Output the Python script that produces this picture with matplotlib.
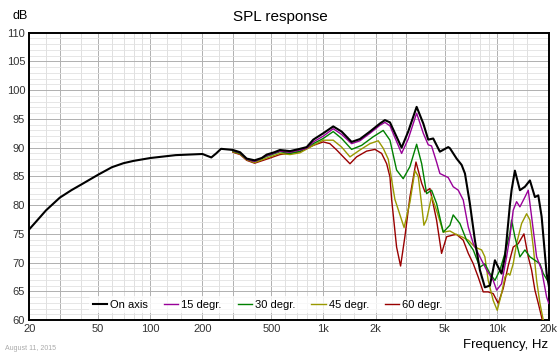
import numpy as np
import matplotlib
matplotlib.use("Agg")
import matplotlib.pyplot as plt

plt.rcParams['font.family'] = ['Liberation Sans', 'DejaVu Sans']

# Datos (frecuencia en Hz, nivel en dB)
f_on = [20, 22, 25, 30, 35, 40, 45, 50, 60, 70, 80, 100, 140, 200, 212, 225, 240, 256, 300, 330,
        360, 400, 440, 470, 520, 560, 640, 731, 800, 873, 996, 1138, 1273, 1453, 1623, 1854,
        2118, 2263, 2420, 2825, 3084, 3450, 3770, 4025, 4300, 4700, 5250, 5370, 5870, 6275,
        6560, 7000, 7485, 8000, 8550, 9140, 9770, 10210, 10670, 11160, 11410, 11920, 12190,
        12740, 13620, 14560, 15560, 16630, 17390, 18180, 19430, 20000]
db_on = [75.8, 77.2, 79.1, 81.3, 82.6, 83.6, 84.5, 85.3, 86.6, 87.3, 87.7, 88.2, 88.7, 88.9, 88.6,
         88.3, 89.0, 89.8, 89.6, 89.2, 88.1, 87.8, 88.2, 88.8, 89.2, 89.6, 89.4, 89.8, 90.1, 91.4,
         92.5, 93.7, 92.8, 91.0, 91.5, 92.8, 94.2, 94.8, 94.4, 90.0, 92.8, 97.1, 94.2, 91.4, 91.6,
         89.3, 90.1, 89.9, 88.1, 87.0, 85.5, 80.3, 73.9, 68.7, 65.7, 66.0, 70.4, 69.2, 68.1, 71.0,
         73.9, 80.0, 82.6, 86.0, 82.6, 83.2, 84.3, 81.4, 81.7, 78.0, 68.1, 66.0]

f_15 = [300, 330, 360, 400, 470, 560, 640, 731, 800, 873, 996, 1138, 1273, 1453, 1623, 1854, 2118,
        2263, 2420, 2825, 3084, 3450, 3770, 4025, 4207, 4497, 4700, 5250, 5610, 6000, 6410, 6855,
        7325, 8000, 8750, 9550, 10000, 10670, 11410, 11920, 12460, 13030, 13620, 14560, 15220,
        15910, 17010, 18180, 19430, 20000]
db_15 = [89.5, 89.1, 88.0, 87.6, 88.6, 89.4, 89.2, 89.6, 89.9, 91.0, 92.0, 93.3, 92.3, 90.7, 91.2,
         92.5, 93.9, 94.4, 93.8, 89.0, 91.5, 96.0, 92.5, 90.5, 90.3, 87.5, 85.5, 84.8, 83.2, 82.6,
         80.9, 76.2, 73.3, 71.0, 68.7, 66.9, 65.2, 66.3, 71.0, 74.5, 79.1, 80.6, 79.7, 81.4, 82.6,
         78.0, 71.0, 68.7, 64.0, 62.9]

f_30 = [300, 330, 360, 400, 470, 560, 640, 731, 873, 996, 1138, 1273, 1453, 1660, 1937, 2212, 2420,
        2643, 2886, 3155, 3450, 3690, 3940, 4207, 4497, 4914, 5370, 5610, 6135, 6700, 7325, 8000,
        8550, 9140, 9770, 10440, 11160, 11920, 12190, 12740, 13620, 14560, 15560, 16630, 17780,
        18580, 20000]
db_30 = [89.4, 89.0, 88.0, 87.6, 88.5, 89.3, 89.0, 89.4, 90.7, 91.6, 92.8, 91.6, 89.7, 90.4, 91.9,
         93.0, 91.3, 86.1, 84.6, 86.7, 90.6, 87.2, 82.0, 82.6, 80.3, 75.3, 76.5, 78.3, 76.8, 73.9,
         72.2, 69.2, 69.8, 68.1, 66.9, 68.7, 71.6, 75.1, 77.4, 74.5, 71.0, 72.2, 71.0, 70.4, 69.8,
         68.1, 66.5]

f_45 = [300, 330, 360, 400, 470, 560, 640, 731, 873, 996, 1138, 1273, 1422, 1623, 1854, 2071, 2212,
        2366, 2584, 2920, 3155, 3374, 3525, 3690, 3800, 3940, 4207, 4497, 4914, 5370, 5740, 6275,
        6855, 7485, 8185, 8550, 8935, 9550, 10075, 10670, 11160, 11670, 11920, 12460, 13030,
        13930, 14890, 15560, 16270, 17010, 17780, 18580, 19430, 20000]
db_45 = [89.3, 88.9, 87.9, 87.4, 88.2, 89.0, 88.8, 89.1, 90.4, 91.3, 91.3, 90.1, 88.4, 89.6, 90.7,
         91.2, 89.9, 88.0, 81.0, 76.1, 80.5, 86.0, 85.0, 80.0, 76.5, 77.5, 81.5, 79.1, 75.3, 75.5,
         75.0, 74.5, 73.9, 72.7, 72.2, 71.0, 66.9, 63.4, 61.7, 64.6, 67.5, 68.1, 67.8, 69.8, 73.3,
         76.8, 78.5, 77.4, 72.7, 66.9, 62.9, 60.0, 58.0, 57.0]

f_60 = [300, 330, 360, 400, 470, 560, 731, 873, 996, 1089, 1191, 1330, 1422, 1553, 1774, 1982, 2166,
        2316, 2420, 2474, 2643, 2787, 2951, 3155, 3420, 3690, 3855, 4115, 4497, 4806, 5140, 5610,
        5870, 6410, 6855, 7325, 7820, 8360, 8935, 9550, 10210, 10910, 11670, 12460, 13320, 14370,
        15220, 15910, 16630, 17390, 18180, 19000, 20000]
db_60 = [89.2, 88.8, 87.8, 87.3, 88.0, 88.8, 89.3, 90.4, 91.0, 90.7, 89.6, 88.1, 87.2, 88.4, 89.4,
         89.7, 89.0, 87.2, 84.9, 81.0, 72.7, 69.4, 74.5, 81.4, 87.5, 83.8, 82.3, 82.9, 77.4, 71.6,
         74.5, 74.8, 74.9, 73.9, 71.6, 69.8, 67.5, 64.9, 64.9, 64.6, 62.9, 65.5, 69.5, 72.7, 73.3,
         75.0, 71.0, 68.7, 65.2, 62.9, 60.5, 58.0, 56.0]

series = [
    (f_on, db_on, 'On axis', '#000000', 1.5),
    (f_15, db_15, '15 degr.', '#990099', 1.0),
    (f_30, db_30, '30 degr.', '#008000', 1.0),
    (f_45, db_45, '45 degr.', '#999900', 1.0),
    (f_60, db_60, '60 degr.', '#990000', 1.0),
]

x_ticks = [20, 50, 100, 200, 500, 1000, 2000, 5000, 10000, 20000]
x_labels = ['20', '50', '100', '200', '500', '1k', '2k', '5k', '10k', '20k']
y_ticks = [60, 65, 70, 75, 80, 85, 90, 95, 100, 105, 110]

fig = plt.figure(figsize=(5.6, 3.56), dpi=100)
ax = fig.add_axes([0.0523, 0.101, 0.9277, 0.807])
ax.set_xscale('log')
ax.set_xlim(20, 20000)
ax.set_ylim(60, 110)

# Rejilla
for d in [10, 100, 1000, 10000]:
    for m in [1.25, 1.5, 2.5, 4, 6, 7, 8, 9]:
        f = d * m
        if 20 < f < 20000:
            ax.axvline(f, color='#dadada', lw=0.6, zorder=0)
    for m in [1, 2, 3, 5]:
        f = d * m
        if 20 < f < 20000:
            ax.axvline(f, color='#b0b0b0', lw=0.7, zorder=0)
for v in range(61, 110):
    ax.axhline(v, color='#e2e2e2' if v % 5 else '#b0b0b0', lw=0.6 if v % 5 else 0.7, zorder=0)

# Curvas (de la más lateral a la de eje)
for f, db, lab, col, lw in reversed(series):
    ax.plot(f, db, color=col, lw=lw, label=lab, zorder=3)

ax.set_xticks(x_ticks)
ax.set_xticklabels(x_labels)
ax.xaxis.set_minor_locator(matplotlib.ticker.NullLocator())
ax.set_yticks(y_ticks)
ax.tick_params(length=0, labelsize=8, labelcolor='#333333', pad=3)
for s in ax.spines.values():
    s.set_linewidth(1.4)

handles, labels = ax.get_legend_handles_labels()
leg = ax.legend(handles[::-1], labels[::-1], ncol=5, loc='lower left',
                bbox_to_anchor=(0.105, 0.005), fontsize=8, handlelength=1.3,
                handletextpad=0.25, columnspacing=1.45, frameon=True, borderpad=0.3)
leg.get_frame().set_facecolor('white')
leg.get_frame().set_alpha(0.75)
leg.get_frame().set_edgecolor('none')

fig.text(0.5, 0.952, 'SPL response', ha='center', va='center', fontsize=11)
fig.text(0.022, 0.955, 'dB', ha='left', va='center', fontsize=9)
fig.text(0.979, 0.031, 'Frequency, Hz', ha='right', va='center', fontsize=9.5)
fig.text(0.009, 0.02, 'August 11, 2015', ha='left', va='center', fontsize=5, color='#aaaaaa')

fig.savefig('out.png', dpi=100)
